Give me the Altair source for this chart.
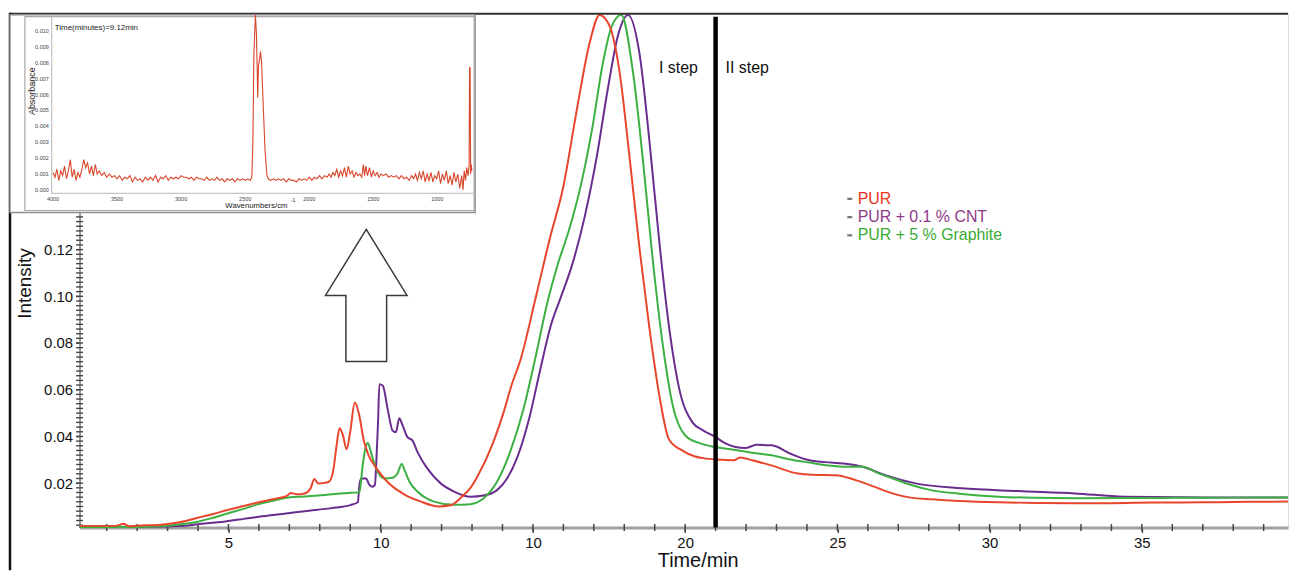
import altair as alt
import pandas as pd

FONT = "Liberation Sans"
W, H = 1216, 517

# ---------------- main curves: Time (min) vs Intensity ----------------
pur_t = [0.11, 1.3, 1.55, 1.75, 2.0, 2.7, 3.3, 4.0, 4.5, 5.0,
         5.5, 6.0, 6.5, 6.9, 7.05, 7.25, 7.5, 7.7, 7.82, 7.95,
         8.1, 8.3, 8.45, 8.55, 8.65, 8.75, 8.88, 9.0, 9.15, 9.28,
         9.45, 9.6, 9.8, 10.2, 10.8, 11.3, 11.9, 12.3, 12.65, 12.95,
         13.2, 13.7, 14.04, 14.3, 14.58, 15.12, 15.56, 16.0, 16.43, 16.86,
         17.19, 17.52, 17.84, 18.17, 18.5, 18.82, 19.15, 19.47, 19.9, 20.3,
         20.7, 21.2, 21.6, 21.8, 22.2, 22.8, 23.7, 24.2, 24.95, 25.6,
         26.2, 26.8, 27.4, 28.1, 29.0, 30.3, 31.5, 32.8, 34.0, 35.3,
         37.0, 38.5, 39.8]
pur_i = [0.0017, 0.0017, 0.0026, 0.0015, 0.0018, 0.0021, 0.0030, 0.0052, 0.0068, 0.0086,
         0.0102, 0.0118, 0.0132, 0.0144, 0.0158, 0.0152, 0.0156, 0.0178, 0.0218, 0.0198,
         0.0200, 0.0206, 0.0260, 0.0360, 0.0435, 0.0410, 0.0345, 0.0420, 0.0545, 0.0500,
         0.0380, 0.0320, 0.0275, 0.0208, 0.0150, 0.0122, 0.0100, 0.0105, 0.0140, 0.0180,
         0.0234, 0.0376, 0.0504, 0.0620, 0.0723, 0.1010, 0.1250, 0.1470, 0.1790, 0.2084,
         0.2205, 0.2157, 0.1966, 0.1600, 0.1206, 0.0870, 0.0577, 0.0387, 0.0340, 0.0315,
         0.0305, 0.0300, 0.0298, 0.0310, 0.0298, 0.0277, 0.0241, 0.0236, 0.0234, 0.0213,
         0.0185, 0.0156, 0.0138, 0.0131, 0.0124, 0.0118, 0.0115, 0.0114, 0.0114, 0.0117,
         0.0118, 0.0120, 0.0121]

cnt_t = [0.11, 2.5, 3.4, 4.0, 4.9, 5.5, 6.0, 6.96, 7.5, 8.38,
         9.0, 9.25, 9.3, 9.36, 9.52, 9.62, 9.72, 9.81, 9.86, 9.91,
         9.96, 10.07, 10.23, 10.39, 10.5, 10.61, 10.72, 10.88, 11.04, 11.21,
         11.53, 11.97, 12.41, 12.95, 13.38, 13.82, 14.15, 14.47, 14.9, 15.23,
         15.6, 15.9, 16.3, 16.7, 17.1, 17.45, 17.8, 18.12, 18.5, 18.82,
         19.15, 19.47, 19.8, 20.24, 20.6, 20.97, 21.34, 21.97, 22.34, 22.84,
         23.46, 24.08, 24.6, 25.2, 25.83, 26.57, 27.57, 29.07, 30.93, 32.8,
         34.42, 37.15, 39.8]
cnt_i = [0.0013, 0.0013, 0.0016, 0.0024, 0.0036, 0.0047, 0.0056, 0.0071, 0.0080, 0.0093,
         0.0106, 0.0118, 0.0190, 0.0220, 0.0220, 0.0195, 0.0185, 0.0192, 0.0300, 0.0450,
         0.0624, 0.0617, 0.0517, 0.0425, 0.0418, 0.0478, 0.0447, 0.0397, 0.0383, 0.0333,
         0.0263, 0.0199, 0.0164, 0.0142, 0.0147, 0.0170, 0.0220, 0.0305, 0.0489, 0.0680,
         0.0880, 0.0990, 0.1140, 0.1340, 0.1600, 0.1880, 0.2120, 0.2205, 0.2040, 0.1674,
         0.1235, 0.0870, 0.0607, 0.0460, 0.0425, 0.0400, 0.0369, 0.0350, 0.0364, 0.0362,
         0.0326, 0.0298, 0.0290, 0.0284, 0.0270, 0.0234, 0.0199, 0.0178, 0.0166, 0.0156,
         0.0142, 0.0139, 0.0139]

gra_t = [0.11, 2.0, 2.73, 3.3, 4.03, 4.5, 5.0, 5.5, 5.99, 6.5,
         6.96, 7.5, 8.16, 9.03, 9.3, 9.41, 9.5, 9.58, 9.68, 9.85,
         10.12, 10.39, 10.55, 10.69, 10.8, 10.95, 11.21, 11.75, 12.41, 12.95,
         13.38, 13.82, 14.25, 14.69, 15.07, 15.45, 15.8, 16.2, 16.6, 16.95,
         17.3, 17.6, 17.9, 18.28, 18.6, 18.93, 19.26, 19.59, 20.02, 20.5,
         20.97, 21.59, 22.2, 22.84, 23.5, 24.08, 24.7, 25.33, 25.83, 26.3,
         26.82, 27.4, 28.07, 29.0, 30.3, 31.5, 32.8, 34.5, 36.0, 38.0,
         39.8]
gra_i = [0.0012, 0.0012, 0.0015, 0.0022, 0.0036, 0.0052, 0.0071, 0.0090, 0.0110, 0.0126,
         0.0139, 0.0143, 0.0149, 0.0159, 0.0160, 0.0277, 0.0350, 0.0372, 0.0333, 0.0263,
         0.0220, 0.0223, 0.0241, 0.0282, 0.0250, 0.0205, 0.0164, 0.0121, 0.0107, 0.0110,
         0.0135, 0.0206, 0.0333, 0.0517, 0.0730, 0.0960, 0.1130, 0.1290, 0.1490, 0.1720,
         0.2000, 0.2160, 0.2205, 0.1966, 0.1600, 0.1163, 0.0797, 0.0534, 0.0402, 0.0370,
         0.0355, 0.0343, 0.0330, 0.0319, 0.0300, 0.0288, 0.0276, 0.0270, 0.0270, 0.0245,
         0.0220, 0.0193, 0.0170, 0.0155, 0.0142, 0.0137, 0.0135, 0.0136, 0.0137, 0.0138,
         0.0139]

step_time = [21.0]
legend_labels = ["PUR", "PUR + 0.1 % CNT", "PUR + 5 % Graphite"]
step_labels = ["I step", "II step"]

x_tick_values = [5, 10, 15, 20, 25, 30, 35]
y_tick_values = [0.02, 0.04, 0.06, 0.08, 0.10, 0.12]
x_minor = list(range(1, 40))
y_minor = [round(0.002 * k, 3) for k in range(1, 111)]

# ---------------- inset FTIR spectrum ----------------
wn = [4000, 3985, 3970, 3955, 3940, 3925, 3910, 3895, 3880, 3865,
      3850, 3835, 3820, 3805, 3790, 3775, 3760, 3745, 3730, 3715,
      3700, 3685, 3670, 3655, 3640, 3620, 3600, 3580, 3560, 3540,
      3520, 3500, 3480, 3460, 3440, 3420, 3400, 3380, 3360, 3340,
      3320, 3300, 3280, 3260, 3240, 3220, 3200, 3180, 3160, 3140,
      3120, 3100, 3080, 3060, 3040, 3020, 3000, 2980, 2960, 2940,
      2920, 2900, 2880, 2860, 2840, 2820, 2800, 2780, 2760, 2740,
      2720, 2700, 2680, 2660, 2640, 2620, 2600, 2580, 2560, 2540,
      2520, 2500, 2480, 2460, 2448, 2440, 2432, 2420, 2412, 2406,
      2402, 2396, 2388, 2380, 2372, 2360, 2345, 2330, 2320, 2300,
      2280, 2260, 2240, 2220, 2200, 2180, 2160, 2140, 2120, 2100,
      2080, 2060, 2040, 2020, 2000, 1980, 1960, 1940, 1920, 1900,
      1880, 1860, 1845, 1830, 1815, 1800, 1785, 1770, 1755, 1740,
      1725, 1710, 1695, 1680, 1665, 1650, 1635, 1620, 1605, 1590,
      1578, 1568, 1558, 1545, 1530, 1515, 1500, 1485, 1470, 1455,
      1440, 1420, 1400, 1380, 1360, 1340, 1320, 1300, 1280, 1260,
      1240, 1220, 1200, 1185, 1170, 1155, 1140, 1125, 1110, 1095,
      1080, 1065, 1050, 1035, 1020, 1005, 990, 975, 960, 945,
      930, 915, 900, 885, 870, 855, 840, 825, 810, 800,
      790, 780, 770, 760, 752, 748, 744, 740, 735, 730]
ab = [0.0011, 0.0008, 0.0013, 0.0006, 0.0012, 0.0009, 0.0015, 0.0007, 0.0012, 0.0019,
      0.0008, 0.0013, 0.0006, 0.0011, 0.0008, 0.0013, 0.0019, 0.0014, 0.0017, 0.0010,
      0.0015, 0.0009, 0.0016, 0.0010, 0.0012, 0.0009, 0.0011, 0.0008, 0.0010, 0.0008,
      0.0009, 0.0007, 0.0009, 0.0006, 0.0008, 0.0007, 0.0009, 0.0005, 0.0008, 0.0006,
      0.0007, 0.0005, 0.0008, 0.0006, 0.0008, 0.0006, 0.0009, 0.0005, 0.0008, 0.0007,
      0.0009, 0.0006, 0.0008, 0.0007, 0.0008, 0.0007, 0.0009, 0.0008, 0.0008, 0.0007,
      0.0008, 0.0006, 0.0008, 0.0007, 0.0007, 0.0006, 0.0008, 0.0006, 0.0007, 0.0006,
      0.0008, 0.0006, 0.0007, 0.0005, 0.0007, 0.0006, 0.0007, 0.0005, 0.0007, 0.0006,
      0.0007, 0.0006, 0.0007, 0.0006, 0.0008, 0.0030, 0.0085, 0.0110, 0.0098, 0.0075,
      0.0058, 0.0078, 0.0082, 0.0087, 0.0080, 0.0055, 0.0025, 0.0009, 0.0007, 0.0006,
      0.0007, 0.0006, 0.0007, 0.0006, 0.0007, 0.0005, 0.0007, 0.0006, 0.0006, 0.0005,
      0.0007, 0.0006, 0.0007, 0.0006, 0.0008, 0.0006, 0.0008, 0.0007, 0.0009, 0.0007,
      0.0009, 0.0008, 0.0010, 0.0008, 0.0011, 0.0009, 0.0013, 0.0008, 0.0012, 0.0009,
      0.0014, 0.0008, 0.0015, 0.0010, 0.0012, 0.0008, 0.0011, 0.0009, 0.0010, 0.0008,
      0.0016, 0.0009, 0.0015, 0.0009, 0.0014, 0.0008, 0.0012, 0.0009, 0.0011, 0.0008,
      0.0010, 0.0009, 0.0010, 0.0008, 0.0009, 0.0008, 0.0009, 0.0007, 0.0009, 0.0007,
      0.0008, 0.0006, 0.0009, 0.0007, 0.0010, 0.0006, 0.0011, 0.0007, 0.0012, 0.0005,
      0.0010, 0.0006, 0.0011, 0.0005, 0.0009, 0.0007, 0.0012, 0.0004, 0.0010, 0.0006,
      0.0012, 0.0004, 0.0009, 0.0003, 0.0011, 0.0005, 0.0010, 0.0001, 0.0009, 0.0000,
      0.0012, 0.0006, 0.0014, 0.0009, 0.0015, 0.0077, 0.0077, 0.0010, 0.0016, 0.0012]
inset_x_ticks = [4000, 3500, 3000, 2500, 2000, 1500, 1000]
inset_y_ticks = [0.000, 0.001, 0.002, 0.003, 0.004, 0.005, 0.006, 0.007, 0.008, 0.009, 0.010]

# ---------------- scales / axes ----------------
XS = alt.Scale(domain=[0.11, 39.8], nice=False, zero=False)
YS = alt.Scale(domain=[0.001, 0.221], nice=False, zero=False)
IXS = alt.Scale(domain=[4000, 1000], range=[-26.7, 360], nice=False, zero=False)
IYS = alt.Scale(domain=[0, 0.01], range=[177.3, 17.3], nice=False, zero=False)

x_axis = alt.Axis(values=x_tick_values, labelExpr="datum.value == 15 ? '10' : datum.label",
                  title="Time/min", titleFont=FONT, titleFontSize=20, titleFontWeight="normal",
                  titleColor="#111", titleX=622, titleY=33, titleAlign="center", titleBaseline="middle",
                  labelFont=FONT, labelFontSize=15, labelColor="#111", labelPadding=3,
                  labelFlush=False, labelOverlap=False,
                  tickSize=5, tickColor="#444", tickWidth=1.5,
                  domainColor="#a0a0a0", domainWidth=3, grid=False)
y_axis = alt.Axis(values=y_tick_values, format=".2f",
                  title="Intensity", titleFont=FONT, titleFontSize=19, titleFontWeight="normal",
                  titleColor="#111", titleX=-55, titleY=271, titleAngle=270, titleAlign="center",
                  titleBaseline="middle",
                  labelFont=FONT, labelFontSize=15, labelColor="#111", labelPadding=3,
                  labelFlush=False, labelOverlap=False,
                  tickSize=4, tickColor="#444", tickWidth=1.5,
                  domainColor="#999999", domainWidth=2, grid=False)

one = pd.DataFrame({"d": [0]})


def curve(t, i, color):
    df = pd.DataFrame({"t": t, "I": i})
    return alt.Chart(df).mark_line(color=color, strokeWidth=2, interpolate="monotone").encode(
        x=alt.X("t:Q", scale=XS, axis=x_axis),
        y=alt.Y("I:Q", scale=YS, axis=y_axis))


def label(text, x, y, size, color="#111", align="left", baseline="alphabetic", angle=0):
    return alt.Chart(one).mark_text(text=text, font=FONT, fontSize=size, color=color,
                                    align=align, baseline=baseline, angle=angle).encode(
        x=alt.value(x), y=alt.value(y))


x_minor_ticks = alt.Chart(pd.DataFrame({"m": x_minor})).mark_rule(color="#444", strokeWidth=1.5).encode(
    x=alt.X("m:Q", scale=XS, axis=x_axis), y=alt.value(H - 3.5), y2=alt.value(H + 3.5))
y_minor_ticks = alt.Chart(pd.DataFrame({"m": y_minor})).mark_rule(color="#444", strokeWidth=1.4).encode(
    y=alt.Y("m:Q", scale=YS, axis=y_axis), x=alt.value(-3.5), x2=alt.value(3.5))

step_rule = alt.Chart(pd.DataFrame({"t": step_time})).mark_rule(color="black", strokeWidth=4.5).encode(
    x=alt.X("t:Q", scale=XS, axis=x_axis), y=alt.value(3), y2=alt.value(H))

top_border = alt.Chart(one).mark_rule(color="#333", strokeWidth=2).encode(
    x=alt.value(-70), x2=alt.value(W), y=alt.value(0))
left_border = alt.Chart(one).mark_rule(color="#111", strokeWidth=2.5).encode(
    x=alt.value(-70), y=alt.value(-1), y2=alt.value(560))

ARROW = "M0,-1L0.617,0L0.308,0L0.308,1L-0.308,1L-0.308,0L-0.617,0Z"
arrow = alt.Chart(one).mark_point(shape=ARROW, size=17689, filled=False, color="#3a3a3a",
                                  strokeWidth=1.5, opacity=1).encode(
    x=alt.value(288.5), y=alt.value(283.5))

legend_colors = ["#e8341f", "#8e3a8a", "#3aaa35"]
legend_y = [191.3, 209.7, 228.0]
legend_layers = []
for name, col, yy in zip(legend_labels, legend_colors, legend_y):
    legend_layers.append(label(name, 783, yy, 16, color=col))
    legend_layers.append(alt.Chart(one).mark_point(shape="M-1,-0.45L1,-0.45L1,0.45L-1,0.45Z", size=25,
                                                   filled=True, color="#777", opacity=1).encode(
        x=alt.value(775), y=alt.value(yy - 5)))

main = alt.layer(
    y_minor_ticks, x_minor_ticks,
    curve(cnt_t, cnt_i, "#6a2d8f"),
    curve(gra_t, gra_i, "#3cb043"),
    curve(pur_t, pur_i, "#e8452c"),
    step_rule, top_border, left_border, arrow,
    label(step_labels[0], 583, 59.3, 16),
    label(step_labels[1], 650, 59.3, 16),
    *legend_layers,
)

# ---------------- inset ----------------
inset_bg = alt.Chart(one).mark_rect(fill="white", stroke="#8c8c8c", strokeWidth=1.5).encode(
    x=alt.value(-70), x2=alt.value(398), y=alt.value(1), y2=alt.value(200))
inset_frame = alt.Chart(one).mark_rect(fill="white", fillOpacity=0, stroke="#a8a8a8", strokeWidth=1.2).encode(
    x=alt.value(-55), x2=alt.value(397), y=alt.value(3), y2=alt.value(198))
inset_yline = alt.Chart(one).mark_rule(color="#b5b5b5", strokeWidth=1).encode(
    x=alt.value(-28), y=alt.value(3), y2=alt.value(181))
inset_xline = alt.Chart(one).mark_rule(color="#b5b5b5", strokeWidth=1).encode(
    x=alt.value(-28), x2=alt.value(396), y=alt.value(180.7))
spectrum = alt.Chart(pd.DataFrame({"wn": wn, "ab": ab})).mark_line(color="#d9452a", strokeWidth=1.1).encode(
    x=alt.X("wn:Q", scale=IXS, axis=None), y=alt.Y("ab:Q", scale=IYS, axis=None))
inset_xlabels = alt.Chart(pd.DataFrame({"v": inset_x_ticks})).mark_text(
    font=FONT, fontSize=5.5, color="#444", baseline="middle").encode(
    x=alt.X("v:Q", scale=IXS, axis=None), y=alt.value(186), text=alt.Text("v:Q", format="d"))
inset_ylabels = alt.Chart(pd.DataFrame({"v": inset_y_ticks})).mark_text(
    font=FONT, fontSize=5.5, color="#444", align="right", baseline="middle").encode(
    y=alt.Y("v:Q", scale=IYS, axis=None), x=alt.value(-31), text=alt.Text("v:Q", format=".3f"))

inset = alt.layer(
    inset_bg, inset_frame, inset_yline, inset_xline, spectrum, inset_xlabels, inset_ylabels,
    label("Time(minutes)=9.12min", -25, 14, 8, color="#222", baseline="middle"),
    label("Absorbance", -48, 78, 9, color="#222", align="center", baseline="middle", angle=270),
    label("Wavenumbers/cm", 178, 193.5, 7.8, color="#222", align="center", baseline="middle"),
    label("-1", 212.5, 187, 5, color="#222", baseline="middle"),
)

chart = alt.layer(main, inset).resolve_scale(x="independent", y="independent").properties(
    width=W, height=H,
    autosize=alt.AutoSizeParams(type="none"),
    padding={"left": 72, "top": 4, "right": 2, "bottom": 42},
).configure_view(strokeWidth=0).configure(background="white")

chart.save("out.html", embed_options={"renderer": "svg", "actions": False})
